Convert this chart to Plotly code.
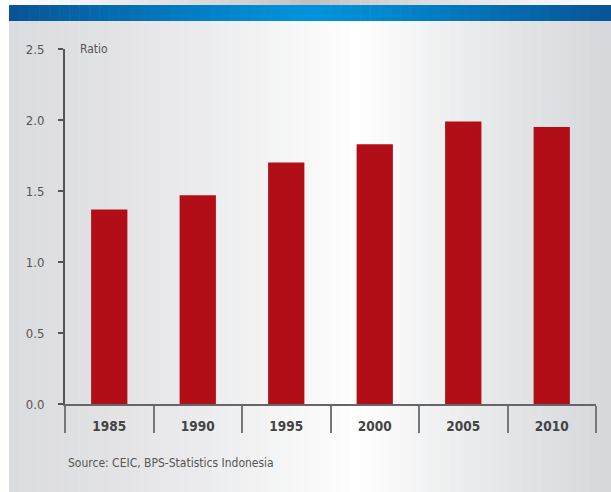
import numpy as np
import plotly.graph_objects as go

years = ["1985", "1990", "1995", "2000", "2005", "2010"]
ratio = [1.37, 1.47, 1.70, 1.83, 1.99, 1.95]
y_ticks = [0.0, 0.5, 1.0, 1.5, 2.0, 2.5]
y_labels = ["0.0", "0.5", "1.0", "1.5", "2.0", "2.5"]

FONT = "Liberation Sans Narrow, DejaVu Sans Condensed, sans-serif"
GREY = "#555555"

fig = go.Figure(go.Bar(x=years, y=ratio, marker_color="#b20e17", marker_line_width=0, width=0.41))

W, H = 611, 492
L, R, T, B = 65, 15, 49, 88
pw, ph = W - L - R, H - T - B

def px(p):
    return (p - L) / pw

def py(p):
    return (H - B - p) / ph

def lerp(c1, c2, t):
    return tuple(int(round(a + (b - a) * t)) for a, b in zip(c1, c2))

shapes = []
n = 60
xs, xe = 9, W
def strip(i):
    xa = xs + (xe - xs) * i / n
    xb = xs + (xe - xs) * (i + 1) / n + 0.6
    return px(xa), px(xb)

left_c, mid_c, right_c = (219, 220, 223), (255, 255, 255), (213, 215, 218)
mid_pos = 0.58
for i in range(n):
    t = (i + 0.5) / n
    if t < mid_pos:
        c = lerp(left_c, mid_c, (t / mid_pos) ** 1.3)
    else:
        c = lerp(mid_c, right_c, ((t - mid_pos) / (1 - mid_pos)) ** 0.9)
    a, b = strip(i)
    shapes.append(dict(type="rect", xref="paper", yref="paper", x0=a, x1=b,
                       y0=py(H), y1=py(21), line_width=0,
                       fillcolor="rgb(%d,%d,%d)" % c, layer="below"))

edge_b, mid_b = (8, 84, 148), (0, 148, 220)
for i in range(n):
    t = (i + 0.5) / n
    d = abs(t - 0.5) * 2
    c = lerp(mid_b, edge_b, d ** 1.1)
    a, b = strip(i)
    shapes.append(dict(type="rect", xref="paper", yref="paper", x0=a, x1=b,
                       y0=py(21), y1=py(5), line_width=0,
                       fillcolor="rgb(%d,%d,%d)" % c, layer="below"))

for i in range(n):
    t = (i + 0.5) / n
    d = abs(t - 0.5) * 2
    c = lerp((190, 190, 190), (255, 255, 255), d ** 0.8)
    a, b = strip(i)
    shapes.append(dict(type="rect", xref="paper", yref="paper", x0=a, x1=b,
                       y0=py(5), y1=py(0), line_width=0,
                       fillcolor="rgb(%d,%d,%d)" % c, layer="below"))

fig.update_layout(
    width=W, height=H,
    margin=dict(l=L, r=R, t=T, b=B),
    paper_bgcolor="white", plot_bgcolor="rgba(0,0,0,0)",
    showlegend=False,
    shapes=shapes,
    font=dict(family=FONT, color=GREY, size=12),
    xaxis=dict(
        type="category", range=[-0.5, 5.5],
        showline=True, linecolor="#666666", linewidth=2,
        ticks="outside", tickson="boundaries", ticklen=27, tickwidth=2, tickcolor="#777777",
        tickfont=dict(family=FONT, size=13.5, color="#444444", weight="bold"),
        ticklabelstandoff=9,
        showgrid=False, zeroline=False, fixedrange=True,
    ),
    yaxis=dict(
        range=[0, 2.5], tickvals=y_ticks, ticktext=y_labels,
        showline=True, linecolor="#555555", linewidth=2,
        ticks="outside", ticklen=5, tickwidth=1.5, tickcolor="#555555",
        tickfont=dict(family=FONT, size=13, color=GREY),
        ticklabelstandoff=11,
        showgrid=False, zeroline=False, fixedrange=True,
    ),
    annotations=[
        dict(text="Ratio", xref="paper", yref="paper", x=px(78), y=1, xanchor="left",
             yanchor="middle", showarrow=False,
             font=dict(family=FONT, size=12, color=GREY)),
        dict(text="Source: CEIC, BPS-Statistics Indonesia", xref="paper", yref="paper",
             x=px(66), y=py(463), xanchor="left", yanchor="middle", showarrow=False,
             font=dict(family=FONT, size=12, color=GREY)),
    ],
)

fig.write_html("out.html")
